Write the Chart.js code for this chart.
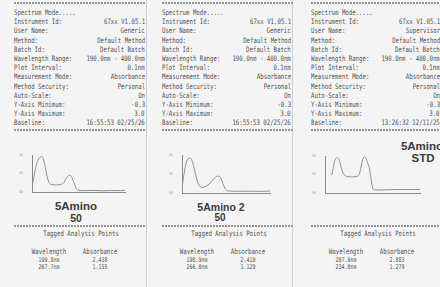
<!DOCTYPE html>
<html>
<head>
<meta charset="utf-8">
<script src="https://cdn.jsdelivr.net/npm/chart.js@4.4.1/dist/chart.umd.min.js"></script>
<style>
  html, body { margin: 0; padding: 0; }
  body { width: 440px; height: 287px; overflow: hidden; background: #cfcfcf; position: relative;
         font-family: "DejaVu Sans Mono", monospace; }
  .paper { position: absolute; top: 0; height: 287px; background: #f4f4f4; }
  .t { position: absolute; white-space: nowrap; font-size: 7.5px; line-height: 8px; height: 8px; color: #505050; }
  .s { font-size: 6.5px; line-height: 6px; height: 6px; }
  .l { transform: scaleX(0.76); transform-origin: left center; }
  .r { transform: scaleX(0.76); transform-origin: right center; }
  .c { transform: translateX(-50%) scaleX(0.76); }
  .title { position: absolute; white-space: nowrap; font-family: "Liberation Sans", Arial, sans-serif;
           font-weight: bold; color: #3c3c3c; transform: translateX(-50%); }
  .dash { position: absolute; height: 2px;
          background: repeating-linear-gradient(90deg, #939393 0 2px, transparent 2px 3px); }
  canvas { position: absolute; }
</style>
</head>
<body>
<script>
// ---- printout text ----
const fieldLabels = ['Instrument Id:', 'User Name:', 'Method:', 'Batch Id:', 'Wavelength Range:',
  'Plot Interval:', 'Measurement Mode:', 'Method Security:', 'Auto-Scale:', 'Y-Axis Minimum:',
  'Y-Axis Maximum:', 'Baseline:'];
const values1 = ['67xx V1.05.1', 'Generic', 'Default Method', 'Default Batch', '190.0nm - 400.0nm',
  '0.1nm', 'Absorbance', 'Personal', 'On', '-0.3', '3.0', '16:55:53 02/25/26'];
const values2 = ['67xx V1.05.1', 'Generic', 'Default Method', 'Default Batch', '190.0nm - 400.0nm',
  '0.1nm', 'Absorbance', 'Personal', 'On', '-0.3', '3.0', '16:55:53 02/25/26'];
const values3 = ['67xx V1.05.1', 'Supervisor', 'Default Method', 'Default Batch', '190.0nm - 400.0nm',
  '0.1nm', 'Absorbance', 'Personal', 'On', '-0.3', '3.0', '13:26:32 12/11/25'];

const tagWl1 = ['199.8nm', '267.7nm'];
const tagAbs1 = ['2.438', '1.155'];
const tagWl2 = ['198.9nm', '266.0nm'];
const tagAbs2 = ['2.410', '1.129'];
const tagWl3 = ['207.0nm', '234.0nm'];
const tagAbs3 = ['2.883', '1.279'];

// ---- spectra (wavelength nm / absorbance) ----
const wl1 = [191, 195, 199, 203, 207, 211, 214, 218, 222, 226, 230, 235, 245, 255, 262, 266, 270, 273,
  276, 279, 283, 287, 290, 295, 310, 330, 350, 370, 390, 400];
const abs1 = [0.4, 1.2, 2.0, 2.5, 2.75, 2.85, 2.8, 2.3, 1.5, 0.8, 0.45, 0.35, 0.33, 0.38, 0.55, 0.85,
  1.08, 1.18, 1.2, 1.1, 0.7, 0.3, 0.0, -0.15, -0.18, -0.16, -0.19, -0.17, -0.18, -0.15];

const wl2 = [190, 193, 196, 199, 202, 205, 208, 211, 214, 218, 222, 226, 230, 235, 240, 245, 250, 255,
  260, 265, 270, 275, 278, 282, 286, 290, 294, 298, 320, 350, 380, 400];
const abs2 = [0.3, 0.9, 1.6, 2.2, 2.55, 2.7, 2.74, 2.7, 2.5, 2.0, 1.4, 0.8, 0.4, 0.22, 0.2, 0.25, 0.35,
  0.5, 0.7, 0.9, 1.08, 1.16, 1.16, 1.05, 0.7, 0.3, 0.0, -0.12, -0.15, -0.14, -0.16, -0.13];

const wl3 = [205, 208, 211, 214, 217, 220, 223, 227, 231, 236, 242, 248, 254, 260, 264, 268, 272, 275,
  277, 280, 284, 288, 291, 294, 297, 305, 320, 340, 360, 380, 400];
const abs3 = [1.3, 1.9, 2.5, 2.8, 2.88, 2.8, 2.4, 1.8, 1.4, 1.22, 1.15, 1.13, 1.14, 1.18, 1.25, 1.7,
  2.5, 2.85, 2.94, 2.85, 2.4, 1.9, 1.2, 0.4, 0.0, -0.03, -0.02, 0.0, 0.01, 0.0, 0.02];

const xTicks = [190, 260, 330, 400];
const yTicks = [-0.3, 1.35, 3.0];

// ---- layout helpers ----
function el(cls, text, x, y, align) {
  const d = document.createElement('div');
  d.className = cls + ' ' + align;
  d.textContent = text;
  d.style.top = (y - 4) + 'px';
  if (align === 'r') d.style.right = (440 - x) + 'px';
  else d.style.left = x + 'px';
  document.body.appendChild(d);
  return d;
}
function dash(x1, x2, y) {
  const d = document.createElement('div');
  d.className = 'dash';
  d.style.left = x1 + 'px'; d.style.width = (x2 - x1) + 'px'; d.style.top = (y - 1) + 'px';
  document.body.appendChild(d);
}
function title(text, x, y, size) {
  const d = document.createElement('div');
  d.className = 'title';
  d.textContent = text;
  d.style.left = x + 'px';
  d.style.fontSize = size + 'px';
  d.style.lineHeight = size + 'px';
  d.style.top = (y - size / 2) + 'px';
  document.body.appendChild(d);
}

const papers = [[0, 146], [147, 292], [293, 440]];
papers.forEach(([a, b]) => {
  const p = document.createElement('div');
  p.className = 'paper';
  p.style.left = a + 'px'; p.style.width = (b - a) + 'px';
  document.body.appendChild(p);
});

const cols = [
  { x: 0, right: 145, values: values1, wl: tagWl1, abs: tagAbs1 },
  { x: 148, right: 291, values: values2, wl: tagWl2, abs: tagAbs2 },
  { x: 297, right: 440, values: values3, wl: tagWl3, abs: tagAbs3 },
];

cols.forEach((c) => {
  dash(c.x + 14, c.x + 145, 3);
  el('t', 'Spectrum Mode.....', c.x + 14, 13, 'l');
  fieldLabels.forEach((lab, i) => {
    const y = 13 + 9.2 * (i + 1);
    el('t', lab, c.x + 14, y, 'l');
    el('t', c.values[i], c.right, y, 'r');
  });
  dash(c.x + 14, c.x + 145, 130);
  dash(c.x + 14, c.x + 145, 226);
  el('t', 'Tagged Analysis Points', c.x + 81, 234, 'c');
  el('t', 'Wavelength', c.x + 49, 252, 'c');
  el('t', 'Absorbance', c.x + 100, 252, 'c');
  c.wl.forEach((w, i) => {
    el('t s', w, c.x + 49, 261 + 7 * i, 'c');
    el('t s', c.abs[i], c.x + 100, 261 + 7 * i, 'c');
  });
});

title('5Amino', 76, 207, 11.5);
title('50', 76, 218, 10.5);
title('5Amino 2', 221, 207, 10.5);
title('50', 220, 218, 10);
title('5Amino', 422, 147, 11.5);
title('STD', 423, 159, 11.5);

// ---- spectrum charts ----
const YW = 13, XH = 6, PT = 3, PR = 9;
function spectrum(wl, abs, area) {
  const cv = document.createElement('canvas');
  const w = area.right - area.left + YW + PR;
  const h = area.bottom - area.top + PT + XH;
  cv.width = w; cv.height = h;
  cv.style.left = (area.left - YW) + 'px';
  cv.style.top = (area.top - PT) + 'px';
  document.body.appendChild(cv);
  new Chart(cv, {
    type: 'line',
    data: {
      datasets: [{
        data: wl.map((x, i) => ({ x, y: abs[i] })),
        borderColor: '#8f8f8f', borderWidth: 1, pointRadius: 0,
        cubicInterpolationMode: 'monotone', fill: false,
      }],
    },
    options: {
      responsive: false, animation: false, events: [],
      layout: { padding: { top: PT, right: PR, left: 0, bottom: 0 } },
      plugins: { legend: { display: false }, tooltip: { enabled: false } },
      scales: {
        x: {
          type: 'linear', min: 190, max: 400,
          grid: { display: false },
          border: { display: true, color: '#8a8a8a', width: 1 },
          afterBuildTicks: (s) => { s.ticks = xTicks.map((v) => ({ value: v })); },
          ticks: { font: { size: 3.5, family: 'DejaVu Sans' }, color: '#999', padding: 1, maxRotation: 0,
                   callback: (v) => v.toFixed(1) },
          afterFit: (s) => { s.height = XH; s.paddingLeft = 0; s.paddingRight = 0; },
        },
        y: {
          min: -0.3, max: 3.0,
          grid: { display: false },
          border: { display: true, color: '#8a8a8a', width: 1 },
          afterBuildTicks: (s) => { s.ticks = yTicks.map((v) => ({ value: v })); },
          ticks: { font: { size: 3.5, family: 'DejaVu Sans' }, color: '#999', padding: 1,
                   callback: (v) => v.toFixed(2) },
          afterFit: (s) => { s.width = YW; s.paddingTop = 0; s.paddingBottom = 0; },
        },
      },
    },
  });
}

spectrum(wl1, abs1, { left: 32, top: 155, right: 125, bottom: 192 });
spectrum(wl2, abs2, { left: 182, top: 155, right: 270, bottom: 193 });
spectrum(wl3, abs3, { left: 325, top: 156, right: 420, bottom: 193 });
</script>
</body>
</html>
